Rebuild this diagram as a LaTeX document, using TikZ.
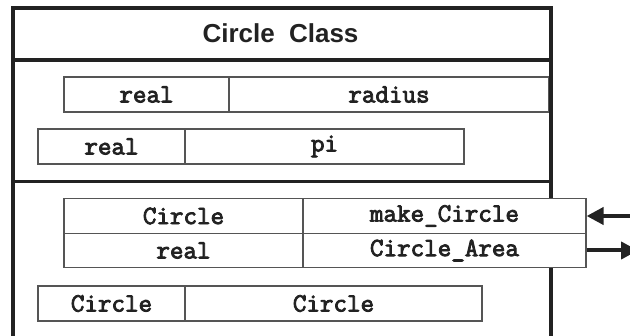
\documentclass[tikz,border=0pt]{standalone}
\usepackage{fontspec}
\usetikzlibrary{arrows.meta}
\newfontfamily\titlefont{Liberation Sans}
\newfontfamily\codefont[FakeBold=3.2]{Latin Modern Mono}
\definecolor{ink}{HTML}{222222}
\definecolor{rule}{HTML}{555555}
\begin{document}
\begin{tikzpicture}[x=1pt,y=-1pt,
  frame/.style={draw=ink,line width=4pt},
  divider/.style={draw=ink,line width=3.6pt},
  cell/.style={draw=rule,line width=1.2pt,rectangle,inner sep=0pt,
    minimum height=35pt,text=ink,
    font=\codefont\fontsize{26.3}{26}\selectfont},
  opcell/.style={cell,fill=white,minimum height=34.5pt},
  flow/.style={draw=ink,line width=4pt,-{Triangle[length=17pt,width=17pt]}},
]
\useasboundingbox (0,0) rectangle (630,336);

% data members
\node[cell,minimum width=165pt] (typeR) at (146.5,94.5) {real};
\node[cell,minimum width=320pt] (nameR) at (389,94.5) {radius};
\node[cell,minimum width=147pt] (typeP) at (111.5,146.5) {real};
\node[cell,minimum width=279pt] (nameP) at (324.5,146.5) {pi};

% class frame, open at the bottom
\draw[frame] (12.5,345) -- (12.5,8.5) -- (550.5,8.5) -- (550.5,345);
\draw[divider] (12.5,60) -- (550.5,60);
\draw[divider] (12.5,181.5) -- (550.5,181.5);
\node[text=ink,font=\titlefont\bfseries\fontsize{26}{26}\selectfont] (title)
  at (280.5,33) {Circle\hspace{0.55em}Class};

% public operations
\node[opcell,minimum width=239pt] (typeM) at (183.5,216) {Circle};
\node[opcell,minimum width=283pt] (nameM) at (444.5,216) {make\_Circle};
\node[opcell,minimum width=239pt] (typeA) at (183.5,250.5) {real};
\node[opcell,minimum width=283pt] (nameA) at (444.5,250.5) {Circle\_Area};

% private operation
\node[cell,minimum width=147pt] (typeC) at (111.5,303.5) {Circle};
\node[cell,minimum width=297pt] (nameC) at (333.5,303.5) {Circle};

% messages in and out
\coordinate (callIn) at (645,216);
\coordinate (resultOut) at (638,250.5);
\draw[flow] (callIn) -- (nameM.east);
\draw[flow] (nameA.east) -- (resultOut);
\end{tikzpicture}
\end{document}
